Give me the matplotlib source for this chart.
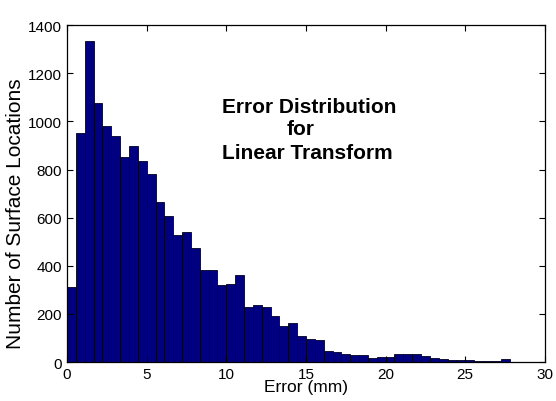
import numpy as np
import matplotlib
matplotlib.use("Agg")
import matplotlib.pyplot as plt

plt.rcParams['font.family'] = ['Liberation Sans', 'DejaVu Sans']

# histogram counts, 50 bins from 0 to ~27.8 mm
counts = [310, 951, 1332, 1076, 981, 941, 850, 897, 837, 782,
          667, 607, 528, 539, 475, 381, 381, 319, 324, 363,
          227, 238, 227, 193, 150, 161, 109, 96, 91, 47,
          40, 32, 29, 29, 17, 21, 22, 32, 32, 32,
          24, 17, 13, 9, 10, 7, 5, 4, 3, 12]
x_max = 27.78
edges = np.linspace(0, x_max, len(counts) + 1)

xticks = [0, 5, 10, 15, 20, 25, 30]
yticks = [0, 200, 400, 600, 800, 1000, 1200, 1400]
title_lines = ["Error Distribution", "for", "Linear Transform"]

fig = plt.figure(figsize=(5.56, 4.02), dpi=100)
ax = fig.add_axes([0.1205, 0.097, 0.8595, 0.838])

ax.bar(edges[:-1], counts, width=np.diff(edges), align='edge',
       color='#000080', edgecolor='#000020', linewidth=0.6)

ax.set_xlim(0, 30)
ax.set_ylim(0, 1400)
ax.set_xticks(xticks)
ax.set_yticks(yticks)
ax.tick_params(direction='in', top=True, right=True, labelsize=11, length=4, width=0.8)
for s in ax.spines.values():
    s.set_linewidth(0.9)

ax.set_xlabel("Error (mm)", fontsize=12.5, labelpad=-1)
ax.set_ylabel("Number of Surface Locations", fontsize=15)
ax.yaxis.set_label_coords(-0.088, 0.442)

ax.text(15.19, 1060, title_lines[0], ha='center', va='center', fontsize=15, fontweight='bold')
ax.text(14.66, 969, title_lines[1], ha='center', va='center', fontsize=15, fontweight='bold')
ax.text(15.1, 869, title_lines[2], ha='center', va='center', fontsize=15, fontweight='bold')

fig.savefig("out.png", dpi=100)
